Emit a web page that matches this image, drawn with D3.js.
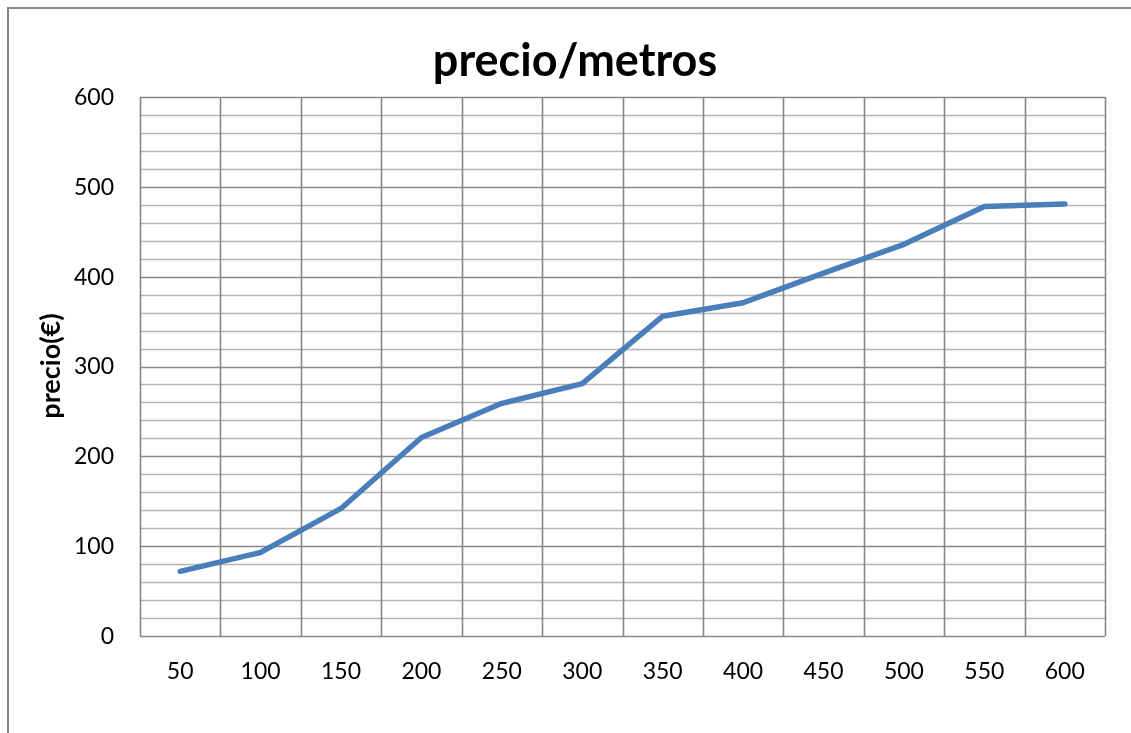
<!DOCTYPE html>
<html>
<head>
<meta charset="utf-8">
<script src="https://cdn.jsdelivr.net/npm/d3@7"></script>
<style>
  html, body { margin: 0; padding: 0; background: #fff; overflow: hidden; width: 100%; height: 100%; }
  svg { position: fixed; left: 0; top: 0; display: block; font-family: Lato, "Open Sans", sans-serif; }
</style>
</head>
<body>
<svg id="chart" width="1131" height="733"></svg>
<script>
// Square metres (categories) and their prices in euros
const metros = [50, 100, 150, 200, 250, 300, 350, 400, 450, 500, 550, 600];
const precios = [72, 93, 142, 221, 259, 281, 356, 371, 404, 436, 478, 481];
const yTicks = [0, 100, 200, 300, 400, 500, 600];
const yMinorStep = 20;

const svg = d3.select("#chart");
const plot = { left: 140, top: 97, right: 1105, bottom: 636 };

// Outer chart frame: only the top and left edges fall inside the view
svg.append("line")
  .attr("x1", 8).attr("x2", 1131).attr("y1", 8).attr("y2", 8)
  .attr("stroke", "#868686").attr("stroke-width", 2);
svg.append("line")
  .attr("x1", 8).attr("x2", 8).attr("y1", 7).attr("y2", 733)
  .attr("stroke", "#868686").attr("stroke-width", 2);

const x = d3.scaleBand()
  .domain(metros)
  .range([plot.left, plot.right])
  .paddingInner(0).paddingOuter(0);

const y = d3.scaleLinear()
  .domain([0, 600])
  .range([plot.bottom, plot.top]);

// Minor horizontal gridlines
const minor = d3.range(0, 600 + 1, yMinorStep).filter(v => v % 100 !== 0);
svg.append("g").selectAll("line").data(minor).join("line")
  .attr("x1", plot.left).attr("x2", plot.right)
  .attr("y1", d => Math.round(y(d)) + 0.5).attr("y2", d => Math.round(y(d)) + 0.5)
  .attr("stroke", "#b4b4b4").attr("stroke-width", 1.6);

// Major horizontal gridlines
svg.append("g").selectAll("line").data(yTicks).join("line")
  .attr("x1", plot.left).attr("x2", plot.right)
  .attr("y1", d => Math.round(y(d)) + 0.5).attr("y2", d => Math.round(y(d)) + 0.5)
  .attr("stroke", "#878787").attr("stroke-width", 1.6);

// Vertical gridlines at category boundaries
const bounds = metros.map(d => x(d)).concat([x(metros[metros.length - 1]) + x.bandwidth()]);
svg.append("g").selectAll("line").data(bounds).join("line")
  .attr("x1", d => Math.round(d) + 0.5).attr("x2", d => Math.round(d) + 0.5)
  .attr("y1", plot.top).attr("y2", plot.bottom)
  .attr("stroke", "#878787").attr("stroke-width", 1.6);

// Y axis labels
const yAxis = d3.axisLeft(y).tickValues(yTicks).tickSize(0).tickPadding(26);
const gy = svg.append("g").attr("transform", `translate(${plot.left},0)`).call(yAxis);
gy.select(".domain").remove();
gy.selectAll("text")
  .attr("font-size", 23).attr("fill", "#000")
  .attr("font-family", "Lato, 'Open Sans', sans-serif");

// X axis labels
const xAxis = d3.axisBottom(x).tickSize(0).tickPadding(27);
const gx = svg.append("g").attr("transform", `translate(0,${plot.bottom})`).call(xAxis);
gx.select(".domain").remove();
gx.selectAll("text")
  .attr("font-size", 23).attr("fill", "#000")
  .attr("font-family", "Lato, 'Open Sans', sans-serif");

// Price line
const line = d3.line()
  .x((d, i) => x(metros[i]) + x.bandwidth() / 2)
  .y(d => y(d));
svg.append("path")
  .datum(precios)
  .attr("d", line)
  .attr("fill", "none")
  .attr("stroke", "#4a7ebb")
  .attr("stroke-width", 5.5)
  .attr("stroke-linejoin", "round")
  .attr("stroke-linecap", "round");

// Title
svg.append("text")
  .attr("x", 575).attr("y", 76)
  .attr("text-anchor", "middle")
  .attr("font-size", 45).attr("font-weight", "bold")
  .attr("fill", "#000")
  .text("precio/metros");

// Y axis title
svg.append("text")
  .attr("transform", `translate(60,366) rotate(-90)`)
  .attr("text-anchor", "middle")
  .attr("font-size", 27).attr("font-weight", "bold")
  .attr("fill", "#000")
  .text("precio(€)");
</script>
</body>
</html>
